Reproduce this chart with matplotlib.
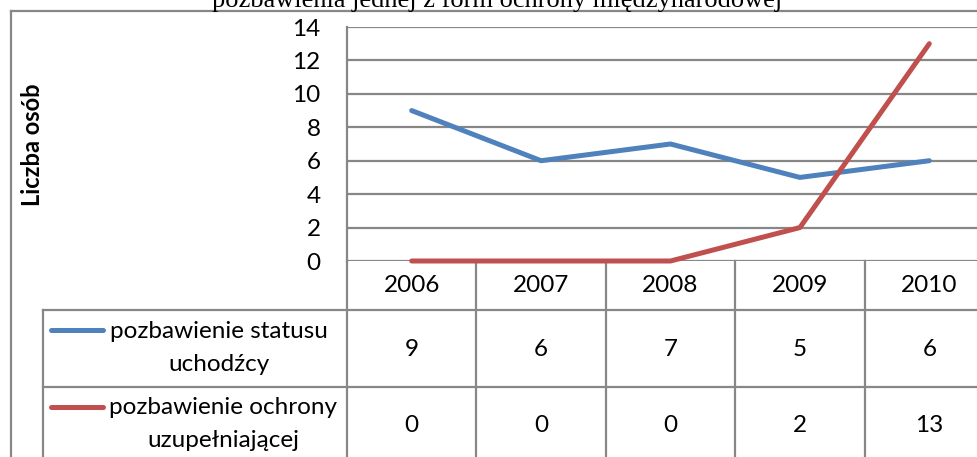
import matplotlib.pyplot as plt
import matplotlib.transforms as mtransforms

years = ["2006", "2007", "2008", "2009", "2010"]
series_labels = ["pozbawienie statusu\nuchodźcy", "pozbawienie ochrony\nuzupełniającej"]
status_uchodzcy = [9, 6, 7, 5, 6]
ochrona_uzupelniajaca = [0, 0, 0, 2, 13]
series_colors = ["#4F81BD", "#C0504D"]
y_ticks = [0, 2, 4, 6, 8, 10, 12, 14]
title = "pozbawienia jednej z form ochrony międzynarodowej"
y_label = "Liczba osób"

W, H = 978, 457
grid_col = "#878787"
fs = 17.5

plt.rcParams["font.family"] = ["Lato", "DejaVu Sans"]

fig = plt.figure(figsize=(W / 100, H / 100), dpi=100)

# nakładka w pikselach - ramki, tabela, etykiety
ov = fig.add_axes([0, 0, 1, 1], zorder=0)
ov.set_xlim(0, W)
ov.set_ylim(H, 0)
ov.axis("off")

# obszar wykresu (prawa krawędź wychodzi poza obraz)
top, bottom, left, right = 27, 261, 347, 994
ax = fig.add_axes([left / W, 1 - bottom / H, (right - left) / W, (bottom - top) / H], zorder=1)
ax.set_facecolor("none")

series = [status_uchodzcy, ochrona_uzupelniajaca]
x = list(range(len(years)))
for vals, col in zip(series, series_colors):
    ax.plot(x, vals, color=col, lw=3.6, solid_capstyle="round", solid_joinstyle="round",
            clip_on=False, zorder=3)

ax.set_xlim(-0.5, len(years) - 0.5)
ax.set_ylim(0, 14)
ax.set_yticks(y_ticks)
ax.set_xticks([])
ax.yaxis.grid(True, color=grid_col, lw=1.6)
ax.set_axisbelow(True)
for s in ["top", "right", "bottom"]:
    ax.spines[s].set_visible(False)
ax.spines["left"].set_color(grid_col)
ax.spines["left"].set_linewidth(1.6)
ax.tick_params(axis="y", length=0, pad=19, labelsize=fs)

# tytuł (ucięty u góry, tak jak w oryginale)
ov.text(497, 7, title, ha="center", va="baseline", fontsize=19,
        family="Liberation Serif")

# ramka wykresu
lw = 1.6
ov.plot([11, 11], [11, H + 5], color=grid_col, lw=lw, clip_on=False)
ov.plot([11, W + 5], [11, 11], color=grid_col, lw=lw, clip_on=False)

ov.text(33, 145, y_label, rotation=90, ha="center", va="center", fontsize=17,
        fontweight="bold")

# tabela danych
bt = mtransforms.blended_transform_factory(ax.transData, ov.transData)
row_lines = [310, 387]
for ry in row_lines:
    ov.plot([43, W + 5], [ry, ry], color=grid_col, lw=lw, clip_on=False)
ov.plot([43, 43], [310, H + 5], color=grid_col, lw=lw, clip_on=False)
for k in range(len(years)):
    ax.plot([k - 0.5, k - 0.5], [bottom, H + 5], color=grid_col, lw=lw,
            transform=bt, clip_on=False)

for i, yr in enumerate(years):
    ax.text(i, 286, yr, transform=bt, ha="center", va="center", fontsize=fs)

row_centers = [348, 424]
legend_y = [330, 407]
label_x = [219, 223]
for vals, col, lab, rc, ly, lx in zip(series, series_colors, series_labels,
                                      row_centers, legend_y, label_x):
    ov.plot([51, 103], [ly, ly], color=col, lw=3.6, solid_capstyle="round")
    ov.text(lx, rc, lab, ha="center", va="center", fontsize=fs,
            multialignment="center", linespacing=1.75)
    for i, v in enumerate(vals):
        ax.text(i, rc + 2, str(v), transform=bt, ha="center", va="center", fontsize=fs)

fig.savefig("out.png", dpi=100)
